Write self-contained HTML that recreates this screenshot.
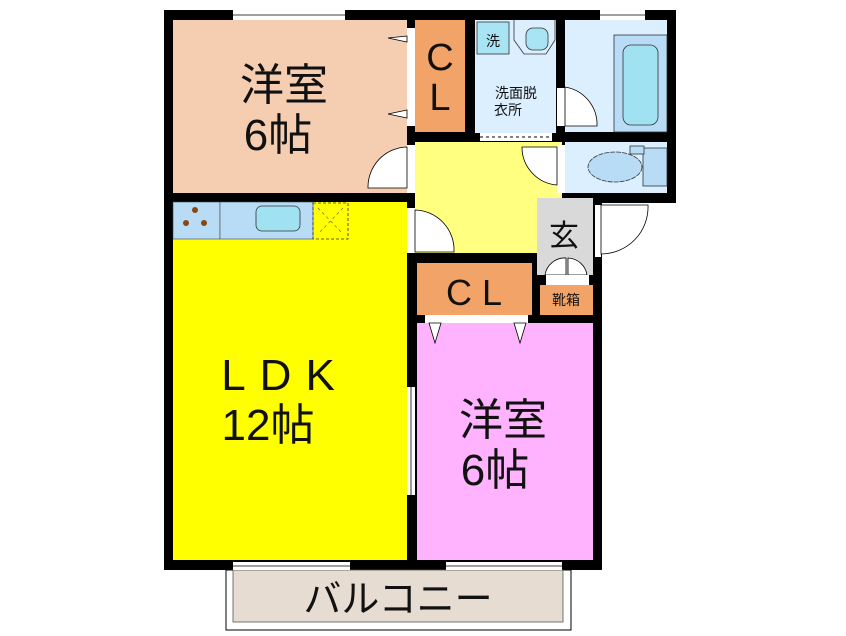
<!DOCTYPE html>
<html><head><meta charset="utf-8"><style>
html,body{margin:0;padding:0;background:#fff;width:846px;height:636px;overflow:hidden}
svg{display:block}
text{font-family:"Liberation Sans","Noto Sans CJK JP",sans-serif;fill:#111}
</style></head><body>
<svg width="846" height="636" viewBox="0 0 846 636" xmlns="http://www.w3.org/2000/svg">
<!-- walls -->
<rect x="164" y="10" width="512" height="193" fill="#000"/>
<rect x="164" y="10" width="438" height="560" fill="#000"/>
<!-- balcony -->
<rect x="226" y="570" width="345" height="60" fill="#fff" stroke="#000" stroke-width="1"/>
<rect x="233" y="570" width="330" height="52" fill="#e6dcd2" stroke="#555" stroke-width="0.8"/>
<text x="398" y="612" font-size="38" text-anchor="middle">バルコニー</text>
<!-- room1 -->
<rect x="173" y="20" width="234" height="173" fill="#f5ceb2"/>
<text x="284" y="100" font-size="44" text-anchor="middle">洋室</text>
<text x="278" y="150" font-size="44" text-anchor="middle">6帖</text>
<!-- CL1 -->
<rect x="415" y="20" width="50" height="112" fill="#f2a468"/>
<text x="440" y="70" font-size="38" text-anchor="middle">C</text>
<text x="440" y="110" font-size="38" text-anchor="middle">L</text>
<!-- closet doors room1 -->
<rect x="407" y="28" width="8" height="98" fill="#fff"/>
<path d="M407 36 L388 38 L407 42Z M407 110 L388 114 L407 118Z" fill="#fff" stroke="#000" stroke-width="0.8"/>
<!-- washroom -->
<rect x="475" y="20" width="81" height="113" fill="#dcefff"/>
<rect x="477" y="22" width="32" height="32" fill="#a8e4f4" stroke="#333" stroke-width="0.8"/>
<text x="493" y="46" font-size="14" text-anchor="middle">洗</text>
<path d="M514 20 L514 40 L524 54 L546 54 L555 40 L555 20" fill="#dcefff" stroke="#333" stroke-width="0.8"/>
<rect x="526" y="28" width="22" height="22" rx="7" fill="#a8e4f4" stroke="#333" stroke-width="0.8"/>
<text x="516" y="98" font-size="14" text-anchor="middle">洗面脱</text>
<text x="508" y="115" font-size="14" text-anchor="middle">衣所</text>
<rect x="480" y="133" width="72" height="8" fill="#fff"/>
<line x1="480" y1="137" x2="552" y2="137" stroke="#000" stroke-dasharray="3,3"/>
<!-- bath -->
<rect x="565" y="20" width="102" height="112" fill="#dcefff"/>
<rect x="614" y="35" width="53" height="97" fill="#b8dcf6" stroke="#333" stroke-width="0.8"/>
<rect x="623" y="45" width="35" height="80" rx="8" fill="#a0e2f2" stroke="#333" stroke-width="0.8"/>
<rect x="557" y="88" width="8" height="38" fill="#fff"/>
<path d="M565 87 A38 38 0 0 1 597 126 L565 126Z" fill="#fff" stroke="#000" stroke-width="0.8"/>
<rect x="600" y="10" width="45" height="10" fill="#fff"/>
<line x1="600" y1="15" x2="645" y2="15" stroke="#000" stroke-width="0.8"/>
<!-- toilet -->
<rect x="565" y="142" width="102" height="51" fill="#dcefff"/>
<rect x="643" y="148" width="24" height="38" fill="#b8dcf6" stroke="#333" stroke-width="0.8"/>
<rect x="630" y="146" width="14" height="8" fill="#b8dcf6" stroke="#333" stroke-width="0.8"/>
<ellipse cx="615" cy="167" rx="27" ry="15" fill="#b8dcf6" stroke="#333" stroke-width="0.8" stroke-dasharray="5,1"/>
<!-- hall -->
<rect x="415" y="142" width="147" height="111" fill="#ffff80"/>
<rect x="557" y="145" width="8" height="48" fill="#fff"/>
<path d="M557 147 L522 147 A38 38 0 0 0 557 185Z" fill="#fff" stroke="#000" stroke-width="0.8"/>
<rect x="407" y="145" width="8" height="48" fill="#fff"/>
<path d="M407 147 A40 40 0 0 0 368 188 L407 188Z" fill="#fff" stroke="#000" stroke-width="0.8"/>
<rect x="407" y="208" width="8" height="45" fill="#fff"/>
<path d="M415 210 A40 40 0 0 1 454 252 L415 252Z" fill="#fff" stroke="#000" stroke-width="0.8"/>
<!-- genkan -->
<rect x="537" y="198" width="56" height="77" fill="#d9d9d9"/>
<rect x="537" y="198" width="25" height="8" fill="#d9d9d9"/>
<text x="564" y="246" font-size="30" text-anchor="middle">玄</text>
<path d="M545 275 A20 20 0 0 1 566 258 L566 275Z M587 275 A20 20 0 0 0 568 258 L568 275Z" fill="#fff" stroke="#000" stroke-width="0.8"/>
<rect x="546" y="275" width="43" height="10" fill="#fff"/>
<rect x="595" y="205" width="6" height="52" fill="#fff"/>
<path d="M601 205 L648 205 A47 47 0 0 1 601 254Z" fill="#fff" stroke="#000" stroke-width="0.8"/>
<!-- CL2 -->
<rect x="417" y="263" width="115" height="52" fill="#f2a468"/>
<text x="474" y="305" font-size="36" text-anchor="middle">C L</text>
<rect x="540" y="285" width="53" height="30" fill="#f2a468"/>
<text x="566" y="305" font-size="14" text-anchor="middle">靴箱</text>
<!-- room2 -->
<rect x="417" y="323" width="176" height="237" fill="#ffb3ff"/>
<rect x="425" y="315" width="103" height="8" fill="#fff"/>
<path d="M429 323 L441 323 L435 343Z M514 323 L526 323 L520 343Z" fill="#fff" stroke="#000" stroke-width="0.8"/>
<text x="503" y="435" font-size="44" text-anchor="middle">洋室</text>
<text x="495" y="485" font-size="44" text-anchor="middle">6帖</text>
<!-- LDK -->
<rect x="173" y="202" width="234" height="358" fill="#ffff00"/>
<rect x="173" y="202" width="47" height="37" fill="#b8dcf6" stroke="#444" stroke-width="0.6"/>
<circle cx="195" cy="210" r="3" fill="#8b4513"/><circle cx="186" cy="223" r="3" fill="#8b4513"/><circle cx="204" cy="223" r="3" fill="#8b4513"/>
<rect x="220" y="202" width="93" height="37" fill="#b8dcf6" stroke="#444" stroke-width="0.6"/>
<rect x="256" y="206" width="44" height="25" rx="6" fill="#a0e2f2" stroke="#333" stroke-width="0.8"/>
<rect x="313" y="203" width="35" height="36" fill="none" stroke="#333" stroke-width="0.8" stroke-dasharray="3,2"/>
<path d="M318 208 L343 234 M343 208 L318 234" stroke="#555" stroke-width="0.6" stroke-dasharray="3,3"/>
<rect x="407" y="387" width="8" height="108" fill="#fff"/>
<line x1="411" y1="387" x2="411" y2="495" stroke="#000" stroke-width="0.8"/>
<text x="285" y="390" font-size="44" text-anchor="middle" letter-spacing="14">LDK</text>
<text x="268" y="440" font-size="44" text-anchor="middle">12帖</text>
<!-- windows -->
<rect x="233" y="10" width="112" height="10" fill="#fff"/>
<line x1="233" y1="15" x2="345" y2="15" stroke="#000" stroke-width="0.8"/>
<rect x="233" y="562" width="117" height="8" fill="#fff"/>
<line x1="233" y1="566" x2="350" y2="566" stroke="#000" stroke-width="0.8"/>
<rect x="446" y="562" width="116" height="8" fill="#fff"/>
<line x1="446" y1="566" x2="562" y2="566" stroke="#000" stroke-width="0.8"/>
</svg>
</body></html>
